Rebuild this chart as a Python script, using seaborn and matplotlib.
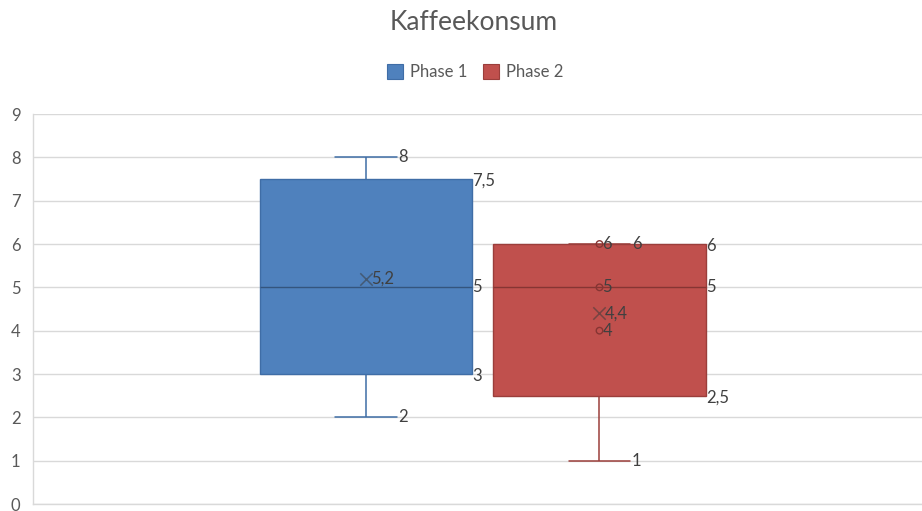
import matplotlib
matplotlib.use("Agg")
import matplotlib.pyplot as plt
from matplotlib.patches import Patch
import seaborn as sns
import pandas as pd
import numpy as np

# ---- data ----
title = "Kaffeekonsum"
series = ["Phase 1", "Phase 2"]
whisker_low = [2, 1]
q1 = [3, 2.5]
median = [5, 5]
q3 = [7.5, 6]
whisker_high = [8, 6]
means = [5.2, 4.4]
inner_points = [[], [6, 5, 4]]
y_ticks = list(range(0, 10))

# ---- styles ----
fill_colors = ["#4F81BD", "#C0504D"]
edge_colors = ["#3F6DA6", "#9B3E3B"]
median_colors = ["#34557E", "#863533"]
label_color = "#404040"
grid_color = "#D9D9D9"


def fmt(v):
    return f"{v:g}".replace(".", ",")


rows = []
for s, lo, a, m, b, hi in zip(series, whisker_low, q1, median, q3, whisker_high):
    for v in (lo, a, m, b, hi):
        rows.append({"Kategorie": "", "Phase": s, "Wert": v})
df = pd.DataFrame(rows)

sns.set_theme(style="white")
plt.rcParams["font.family"] = ["Lato", "DejaVu Sans"]

fig = plt.figure(figsize=(9.22, 5.11), dpi=100)
ax = fig.add_axes([33 / 922, 7 / 511, 889 / 922, 390 / 511])

sns.boxplot(data=df, x="Kategorie", y="Wert", hue="Phase", palette=fill_colors,
            width=0.8, gap=0.09, whis=10, showfliers=False, linewidth=1.0,
            ax=ax, legend=False)

ax.set_xlim(-0.7705, 0.7525)
ax.set_ylim(0, 9)
ax.set_yticks(y_ticks)
ax.set_yticklabels([str(t) for t in y_ticks])
ax.set_xticks([])
ax.set_xlabel("")
ax.set_ylabel("")
ax.yaxis.grid(True, color=grid_color, linewidth=1.0)
ax.set_axisbelow(True)
for side in ["top", "right"]:
    ax.spines[side].set_visible(False)
for side in ["left", "bottom"]:
    ax.spines[side].set_color(grid_color)
    ax.spines[side].set_linewidth(1.0)
ax.tick_params(axis="y", length=0, pad=9, labelsize=12, labelcolor="#595959")
for t in ax.get_yticklabels():
    t.set_verticalalignment("center_baseline")

cap_half = 0.053
lab_kw = dict(textcoords="offset points", fontsize=12, color=label_color,
              va="center", ha="left", annotation_clip=False)

for i, cont in enumerate(ax.containers):
    box = cont.boxes[0]
    box.set_facecolor(fill_colors[i])
    box.set_edgecolor(edge_colors[i])
    bz = box.get_zorder()
    xs = box.get_path().vertices[:, 0]
    cx = (xs.min() + xs.max()) / 2
    right = xs.max()
    for w in cont.whiskers:
        w.set_color(edge_colors[i])
        w.set_linewidth(1.1)
        w.set_zorder(bz - 0.1)
    for c in cont.caps:
        c.set_color(edge_colors[i])
        c.set_linewidth(1.1)
        c.set_xdata([cx - cap_half, cx + cap_half])
        c.set_zorder(bz - 0.1)
    for m in cont.medians:
        m.set_color(median_colors[i])
        m.set_linewidth(1.0)

    # mean marker
    ax.scatter([cx], [means[i]], marker="x", s=80, color="#3A3A3A", alpha=0.55,
               linewidths=1.1, zorder=5)
    ax.annotate(fmt(means[i]), xy=(cx, means[i]), xytext=(4, 0), **lab_kw)

    # inner points
    if inner_points[i]:
        ax.scatter([cx] * len(inner_points[i]), inner_points[i], marker="o", s=22,
                   facecolors="none", edgecolors=median_colors[i], linewidths=1.0,
                   zorder=5)
        for p in inner_points[i]:
            ax.annotate(fmt(p), xy=(cx, p), xytext=(2, 0), **lab_kw)

    # whisker end labels
    ax.annotate(fmt(whisker_high[i]), xy=(cx + cap_half, whisker_high[i]), xytext=(1, 0), **lab_kw)
    ax.annotate(fmt(whisker_low[i]), xy=(cx + cap_half, whisker_low[i]), xytext=(1, 0), **lab_kw)
    # box labels
    ax.annotate(fmt(q3[i]), xy=(right, q3[i]), xytext=(0, -1.5), **lab_kw)
    ax.annotate(fmt(median[i]), xy=(right, median[i]), xytext=(0, 0), **lab_kw)
    ax.annotate(fmt(q1[i]), xy=(right, q1[i]), xytext=(0, -1.5), **lab_kw)

fig.text(474 / 922, 1 - 22 / 511, title, ha="center", va="center",
         fontsize=19, color="#595959")

handles = [Patch(facecolor=fc, edgecolor=ec, linewidth=0.8)
           for fc, ec in zip(fill_colors, edge_colors)]
fig.legend(handles, series, loc="center", bbox_to_anchor=(475 / 922, 1 - 72 / 511),
           ncol=2, frameon=False, fontsize=12, handlelength=1.0, handleheight=1.0,
           handletextpad=0.4, columnspacing=0.9, labelcolor="#595959")

fig.savefig("out.png", dpi=100)
